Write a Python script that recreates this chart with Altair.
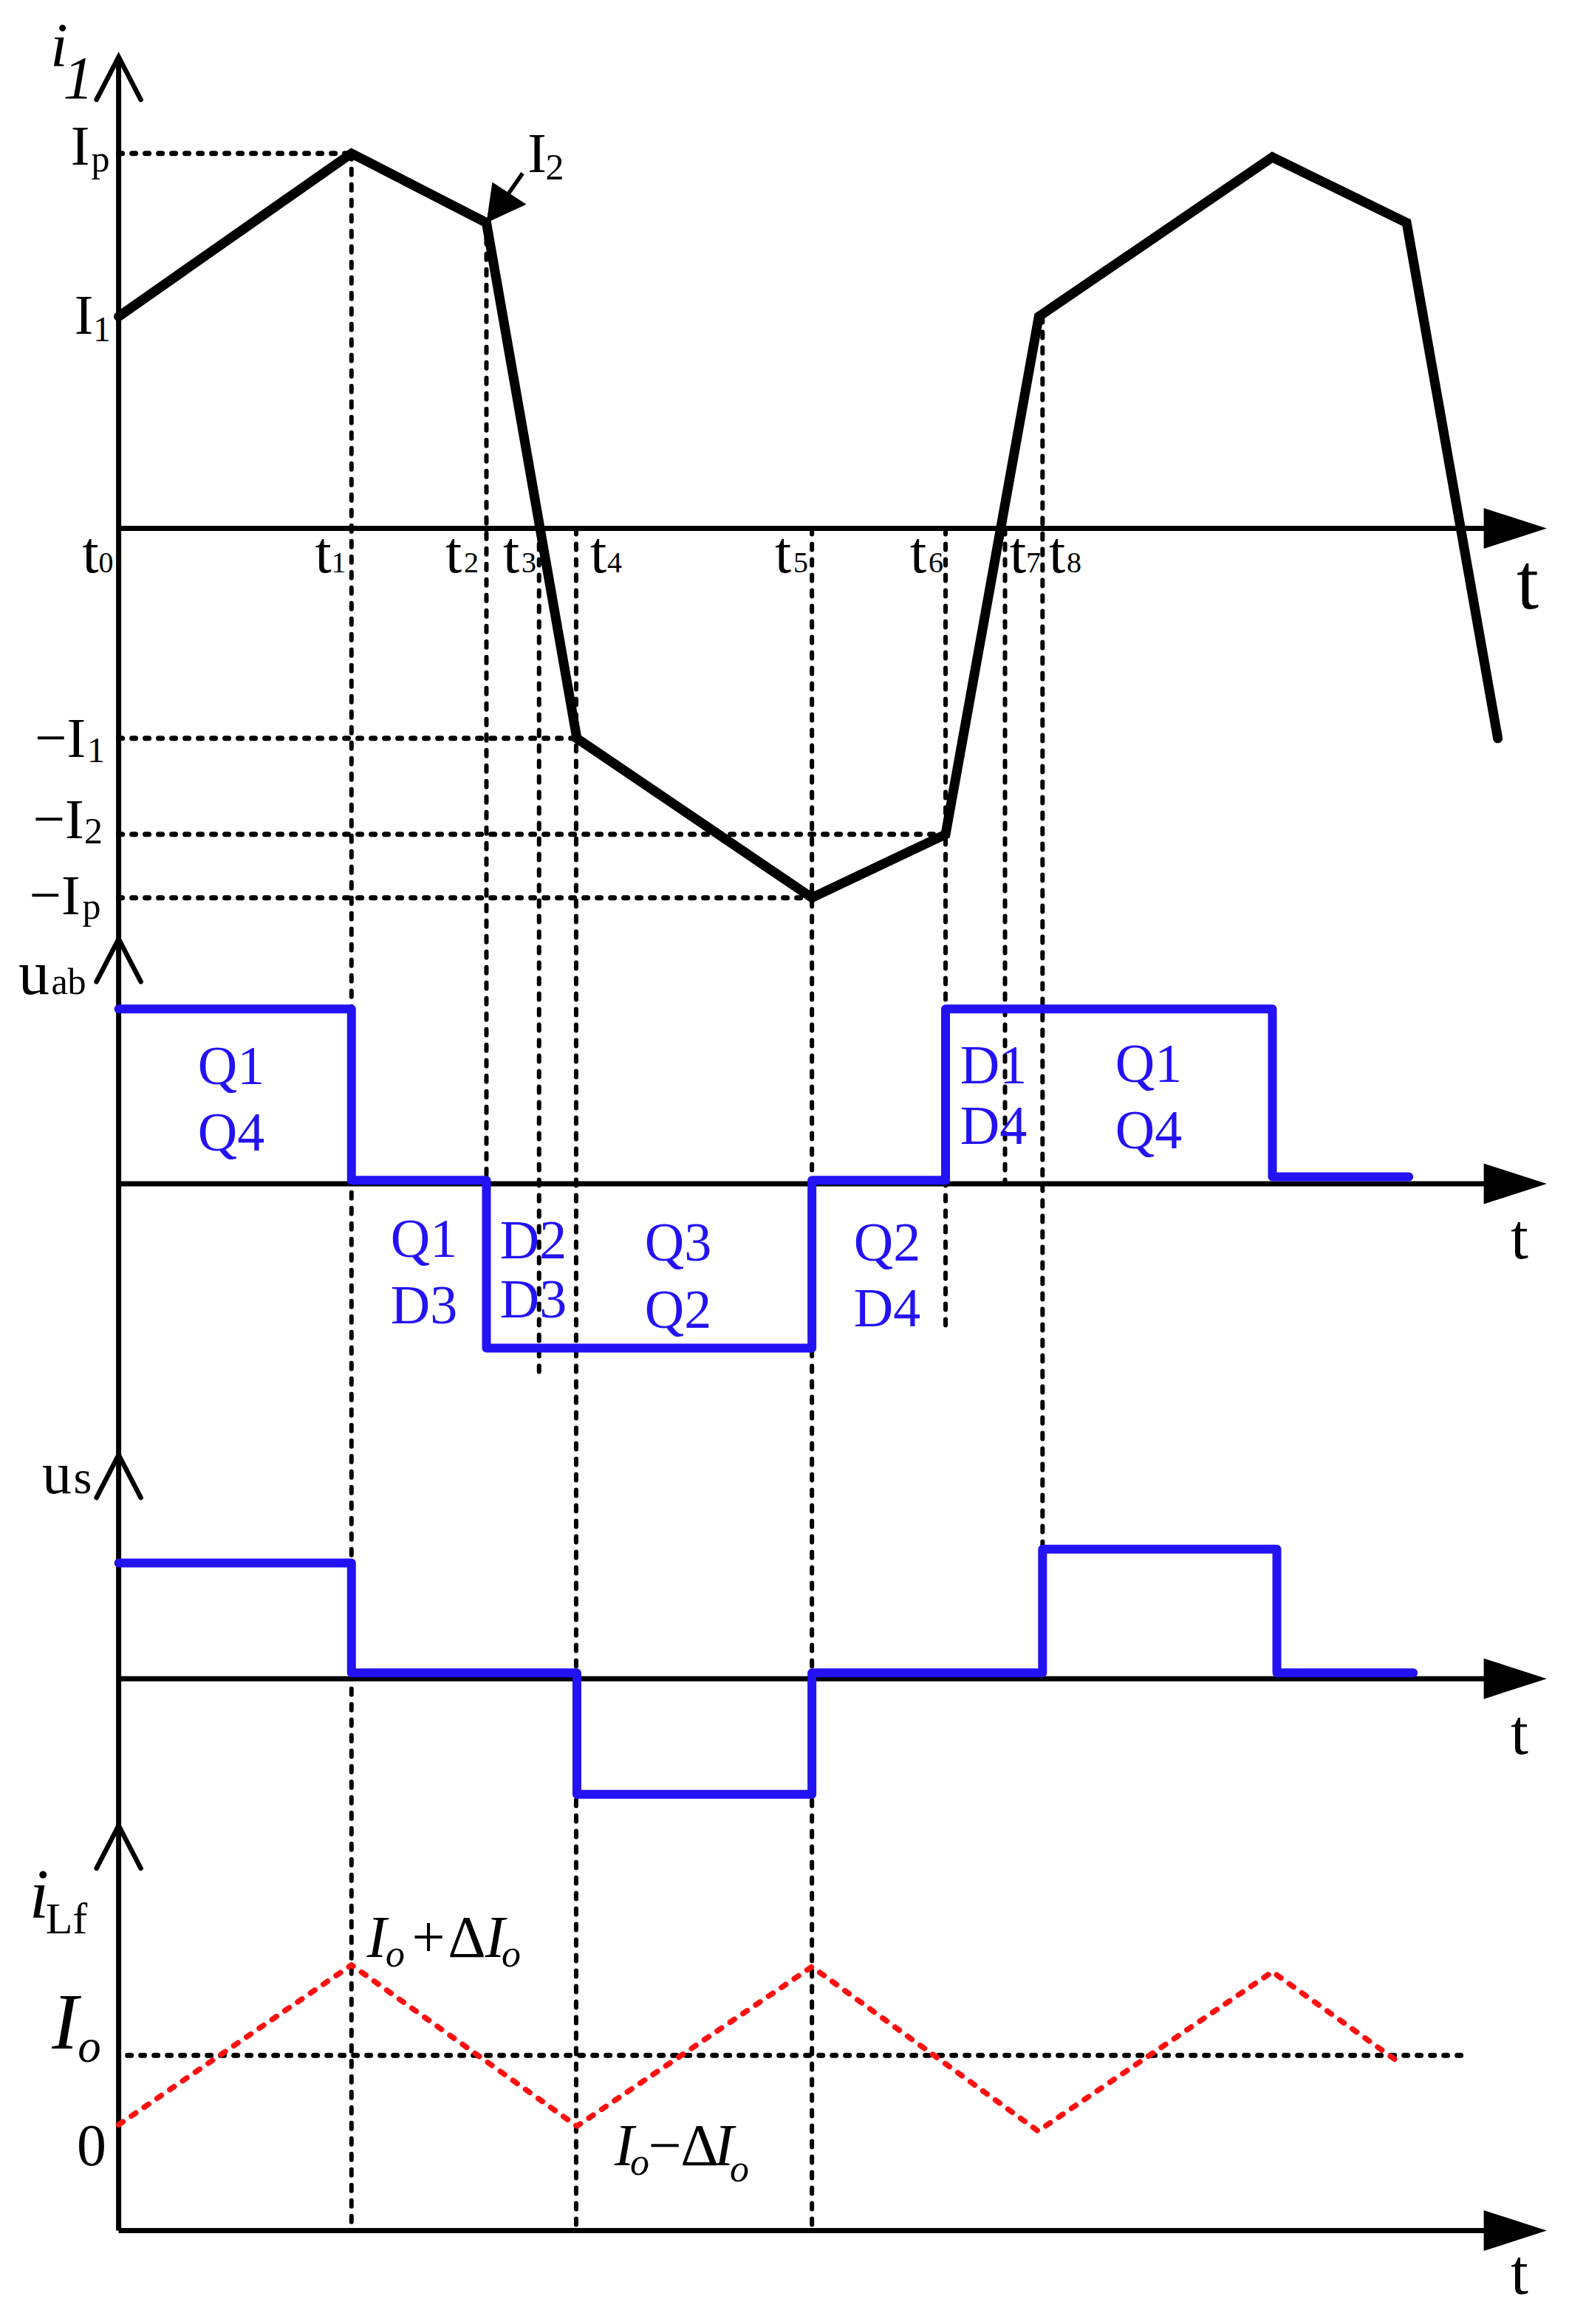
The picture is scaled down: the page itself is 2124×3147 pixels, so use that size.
import altair as alt
import pandas as pd

# ---------------- values ----------------
# switching instants t0..t8 (arbitrary time units, t0 = 0)
T_DIGITS = ["0", "1", "2", "3", "4", "5", "6", "7", "8"]
T_VALUES = [0.0, 1.57, 2.48, 2.835, 3.085, 4.675, 5.576, 5.977, 6.23]

# primary current i1 (Ip = 1)
I1_TIME = [0.0, 1.57, 2.48, 3.09, 4.675, 5.576, 6.205, 7.78, 8.685, 9.30]
I1_VALUE = [0.565, 1.0, 0.815, -0.56, -0.985, -0.816, 0.565, 0.99, 0.815, -0.56]

# bridge voltage uab (Udc = 1)
UAB_TIME = [0.0, 1.57, 1.57, 2.48, 2.48, 4.675, 4.675, 5.576, 5.576, 7.78, 7.78, 8.70]
UAB_VALUE = [1.0, 1.0, 0.02, 0.02, -0.94, -0.94, 0.02, 0.02, 1.0, 1.0, 0.04, 0.04]

# secondary voltage us
US_TIME = [0.0, 1.57, 1.57, 3.09, 3.09, 4.675, 4.675, 6.23, 6.23, 7.81, 7.81, 8.73]
US_VALUE = [1.0, 1.0, 0.05, 0.05, -1.0, -1.0, 0.05, 0.05, 1.12, 1.12, 0.05, 0.05]

# filter inductor current iLf (Io = 1)
ILF_TIME = [0.0, 1.57, 3.09, 4.675, 6.20, 7.78, 8.645]
ILF_VALUE = [0.604, 1.515, 0.596, 1.505, 0.568, 1.476, 0.953]
IO_LEVEL = 1.0

# conducting devices in each uab interval
UAB_STATES = [("Q1", "Q4"), ("Q1", "D3"), ("D2", "D3"), ("Q3", "Q2"),
              ("Q2", "D4"), ("D1", "D4"), ("Q1", "Q4")]

# ---------------- layout ----------------
W, H = 2090, 3120
SX, SY = 2124 / 1058, 3147 / 1568
PXT = 100 * SX            # page px per time unit
T0PX = 80 * SX            # page x of t = 0
XDOM = [(8 - T0PX) / PXT, (8 + W - T0PX) / PXT]
YDOM = [8 / SY, (8 + H) / SY]
PANEL = {"i1": (356.5, 253.0), "uab": (798.7, 118.0),
         "us": (1132.6, 78.0), "ilf": (1505.0, 118.3)}
AX_TOP = {"i1": 38.4, "uab": 633.5, "us": 981.6, "ilf": 1231.7}
T_END = 9.63
FONT = "Liberation Serif"
BLUE = "#2312F4"
RED = "#FF1010"


def vv(panel, level):
    base, unit = PANEL[panel]
    return base - level * unit


def P(xf):
    return (xf - T0PX) / PXT


def V(yf):
    return yf / SY


X = alt.X("t:Q", scale=alt.Scale(domain=XDOM, nice=False, zero=False), axis=None)
Y = alt.Y("v:Q", scale=alt.Scale(domain=YDOM, nice=False, zero=False, reverse=True), axis=None)


def series(panel, times, values):
    return pd.DataFrame({"t": times, "v": [vv(panel, a) for a in values],
                         "o": list(range(len(times)))})


def wave(df, color, width, dash=None, join="round"):
    kw = dict(color=color, strokeWidth=width, strokeCap="round", strokeJoin=join)
    if dash:
        kw["strokeDash"] = dash
    return alt.Chart(df).mark_line(**kw).encode(x=X, y=Y, order="o:Q")


def rules(df, width, dash=None, cap="round", color="black"):
    kw = dict(color=color, strokeWidth=width, strokeCap=cap)
    if dash:
        kw["strokeDash"] = dash
    return alt.Chart(df).mark_rule(**kw).encode(
        x=X, y=Y, x2=alt.X2("t2:Q"), y2=alt.Y2("v2:Q"))


layers = []

# vertical dashed guides
GUIDES_V = [(1, ("i1", 1.0), ("ilf", 0.0)), (2, ("i1", 0.815), ("uab", -0.94)),
            (3, ("i1", 0.0), ("uab", -1.08)), (4, ("i1", 0.0), ("ilf", 0.0)),
            (5, ("i1", 0.0), ("ilf", 0.0)), (6, ("i1", 0.0), ("uab", -0.82)),
            (7, ("i1", 0.0), ("uab", 0.0)), (8, ("i1", 0.565), ("us", 1.12))]
gv = pd.DataFrame([{"t": T_VALUES[i], "t2": T_VALUES[i], "v": vv(*a), "v2": vv(*b)}
                   for i, a, b in GUIDES_V])
layers.append(rules(gv, 6, dash=[8, 13]))

# horizontal dotted guides
GUIDES_H = [("i1", 1.0, 0.0, 1.57), ("i1", -0.56, 0.0, 3.09), ("i1", -0.816, 0.0, 5.576),
            ("i1", -0.985, 0.0, 4.675), ("ilf", IO_LEVEL, 0.06, 9.08)]
gh = pd.DataFrame([{"t": a, "t2": b, "v": vv(p, l), "v2": vv(p, l)}
                   for p, l, a, b in GUIDES_H])
layers.append(rules(gh, 7, dash=[5, 13]))

# axes
ax = [{"t": 0.0, "t2": 0.0, "v": AX_TOP["i1"], "v2": PANEL["ilf"][0]}]
for p in PANEL:
    ax.append({"t": 0.0, "t2": T_END - 0.2, "v": PANEL[p][0], "v2": PANEL[p][0]})
layers.append(rules(pd.DataFrame(ax), 7, cap="butt"))

# waveforms
layers.append(wave(series("i1", I1_TIME, I1_VALUE), "black", 13, join="miter"))
layers.append(wave(series("uab", UAB_TIME, UAB_VALUE), BLUE, 12))
layers.append(wave(series("us", US_TIME, US_VALUE), BLUE, 12))
layers.append(wave(series("ilf", ILF_TIME, ILF_VALUE), RED, 7.5, dash=[7, 14]))

# arrow heads on axes
tips = pd.DataFrame({"t": [0.0] * 4, "v": [AX_TOP[p] for p in PANEL]})
layers.append(alt.Chart(tips).mark_point(
    shape="M-1,1.93L0,0L1,1.93", size=3600, filled=False, strokeWidth=6.5,
    color="black", opacity=1, strokeJoin="miter", strokeCap="round").encode(x=X, y=Y))
ends = pd.DataFrame({"t": [T_END] * 4, "v": [PANEL[p][0] for p in PANEL]})
layers.append(alt.Chart(ends).mark_point(
    shape="M0,0L-3.1,-1L-3.1,1Z", size=3025, filled=True, strokeWidth=0,
    color="black", opacity=1).encode(x=X, y=Y))

# I2 annotation arrow
tip_t, tip_v = I1_TIME[2], vv("i1", I1_VALUE[2])
tail = pd.DataFrame({"t": [tip_t + 49 / PXT], "v": [tip_v - 67 / SY],
                     "t2": [tip_t + 24 / PXT], "v2": [tip_v - 31 / SY]})
layers.append(rules(tail, 5.5, cap="butt"))
layers.append(alt.Chart(pd.DataFrame({"t": [tip_t], "v": [tip_v]})).mark_point(
    shape="M0,0L0.267,-1.833L1.8,-0.833Z", size=3600, filled=True, strokeWidth=0,
    color="black", opacity=1).encode(x=X, y=Y))

# ---------------- text ----------------
texts = []


def lab(text, xc, yb, size, style="normal", color="black"):
    texts.append(dict(text=text, t=P(xc), v=V(yb), size=size, style=style, color=color))


# i1 axis label
lab("i", 80, 90, 84, "italic")
lab("1", 106, 133, 82, "italic")
# current levels
lab("I", 108.5, 223, 77); lab("p", 136, 232, 50)
lab("I", 113.5, 452, 77); lab("1", 138, 462, 48)
lab("I", 727, 233, 77); lab("2", 751, 243, 50)
lab("\u2212I", 81.5, 1025, 77); lab("1", 130, 1032, 48)
lab("\u2212I", 79, 1135, 77); lab("2", 126.5, 1142, 50)
lab("\u2212I", 74, 1238, 77); lab("p", 124, 1244, 50)
# t0..t8
T_LAB_T = [122.5, 437.5, 614, 692, 810, 1060, 1243, 1378, 1431]
T_LAB_D = [143.5, 458.5, 638, 716, 832, 1084, 1267, 1399, 1454]
for d, xt, xd in zip(T_DIGITS, T_LAB_T, T_LAB_D):
    lab("t", xt, 775, 80)
    lab(d, xd, 775, 40)
# time axis names
lab("t", 2068, 824, 108)
for yb in [1704, 2375, 3106]:
    lab("t", 2057, yb, 86)
# voltage / current names
lab("u", 46, 1346, 84); lab("ab", 93, 1346, 50)
lab("u", 77, 2022, 80); lab("s", 112, 2022, 64)
lab("i", 53, 2597, 95, "italic"); lab("Lf", 90, 2618, 60)
lab("I", 88, 2774, 107, "italic"); lab("o", 121, 2792, 63, "italic")
lab("0", 124, 2932, 80)
# ripple labels
lab("I", 510, 2650, 80, "italic"); lab("o", 535, 2663, 52, "italic")
lab("+", 580, 2650, 80); lab("\u0394", 632, 2650, 80)
lab("I", 670, 2650, 80, "italic"); lab("o", 692, 2663, 52, "italic")
lab("I", 845, 2932, 80, "italic"); lab("o", 866, 2945, 52, "italic")
lab("\u2212", 900, 2932, 80); lab("\u0394", 947, 2932, 80)
lab("I", 980, 2932, 80, "italic"); lab("o", 1001, 2954, 52, "italic")
# conducting devices
STATE_POS = [(313, 1468, 1558), (574, 1702, 1792), (722, 1704, 1784), (918, 1707, 1798),
             (1201, 1707, 1796), (1345, 1467, 1549), (1555, 1465, 1555)]
for (a, b), (xc, y1, y2) in zip(UAB_STATES, STATE_POS):
    lab(a, xc, y1, 74, color=BLUE)
    lab(b, xc, y2, 74, color=BLUE)

tdf = pd.DataFrame(texts)
for style in ["normal", "italic"]:
    sub = tdf[tdf["style"] == style]
    layers.append(alt.Chart(sub).mark_text(
        font=FONT, fontStyle=style, align="center", baseline="alphabetic").encode(
        x=X, y=Y, text="text:N",
        size=alt.Size("size:Q", scale=None),
        color=alt.Color("color:N", scale=None)))

chart = alt.layer(*layers).properties(
    width=W, height=H, padding=0, autosize="none", background="white"
).configure_view(strokeWidth=0)

chart.save("out.html", embed_options={"renderer": "svg", "actions": False})
